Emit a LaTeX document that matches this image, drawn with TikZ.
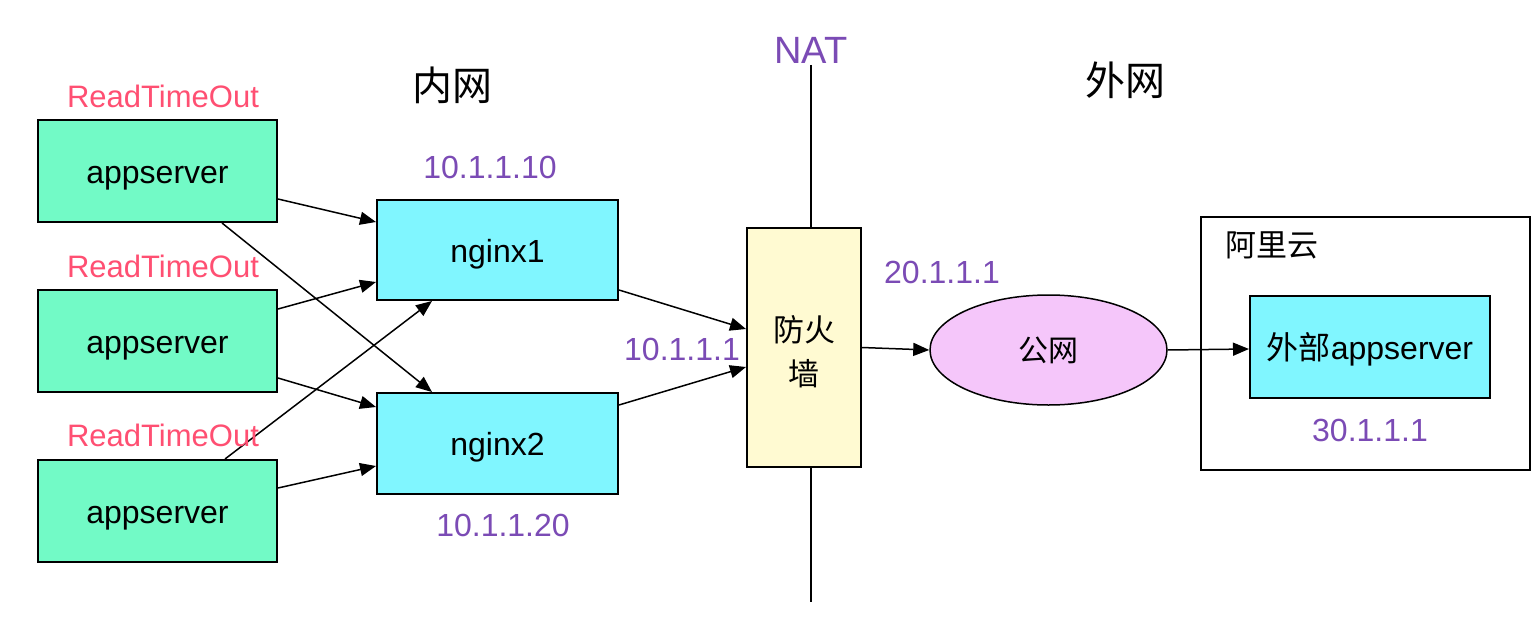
\documentclass[tikz,border=0pt]{standalone}
\usepackage{fontspec}
\setmainfont{Liberation Sans}
\newfontfamily\cjk{Noto Sans CJK SC}
\usetikzlibrary{arrows.meta,shapes.geometric}
\definecolor{mint}{HTML}{72FAC6}
\definecolor{cyanf}{HTML}{80F6FF}
\definecolor{fwf}{HTML}{FFFAD2}
\definecolor{pinkf}{HTML}{F5C6FA}
\definecolor{purp}{HTML}{7B4BB5}
\definecolor{redt}{HTML}{FF4F72}
\tikzset{
  box/.style={draw=black,line width=2pt,inner sep=0pt,font=\fontsize{32}{38}\selectfont},
  txtc/.style={text height=32pt,text depth=8pt},
  appbox/.style={box,txtc,fill=mint,minimum width=239pt,minimum height=102pt},
  ngbox/.style={box,txtc,fill=cyanf,minimum width=241pt,minimum height=100pt},
  arr/.style={line width=1.5pt,-{Triangle[length=16pt,width=13pt]}},
  ptxt/.style={text=purp,font=\fontsize{32}{38}\selectfont,inner sep=0pt},
  rtxt/.style={text=redt,font=\fontsize{31}{38}\selectfont,inner sep=0pt},
  ctxt/.style={font=\fontsize{40}{48}\selectfont\cjk,inner sep=0pt}
}
\begin{document}
\begin{tikzpicture}[x=1pt,y=-1pt]
\useasboundingbox[fill=white] (0,0) rectangle (1540,634);
% titles
\node[ctxt] (nei) at (452,85) {内网};
\node[ctxt] (wai) at (1125,80) {外网};
\node[text=purp,font=\fontsize{38}{44}\selectfont,inner sep=0pt] (nat) at (811,50) {NAT};
% appservers
\node[appbox] (app1) at (157.5,171) {appserver};
\node[appbox] (app2) at (157.5,341) {appserver};
\node[appbox] (app3) at (157.5,511) {appserver};
\node[rtxt] (rt1) at (163,96) {ReadTimeOut};
\node[rtxt] (rt2) at (163,266) {ReadTimeOut};
% nginx
\node[ngbox] (ng1) at (497.5,250) {nginx1};
\node[ngbox,minimum height=101pt] (ng2) at (497.5,443.5) {nginx2};
\node[ptxt] (ip1) at (490,167) {10.1.1.10};
\node[ptxt] (ip2) at (503,525) {10.1.1.20};
% firewall
\node[box,fill=fwf,minimum width=114pt,minimum height=239pt] (fw) at (804,347.5) {};
\node[align=center,font=\fontsize{31}{44}\selectfont\cjk,inner sep=0pt] (fwt) at (804,352) {防火\\墙};
\coordinate (natTop) at (811,65);
\coordinate (natBot) at (811,602);
\draw[line width=2pt] (natTop) -- ([xshift=7pt]fw.north);
\draw[line width=2pt] ([xshift=7pt]fw.south) -- (natBot);
\node[ptxt] (ip3) at (682,349) {10.1.1.1};
\node[ptxt] (ip4) at (942,272) {20.1.1.1};
% public net
\node[ellipse,draw=black,line width=1.5pt,fill=pinkf,minimum width=237pt,minimum height=110pt,inner sep=0pt,font=\fontsize{30}{36}\selectfont\cjk] (pub) at (1048.5,350) {公网};
% aliyun
\node[draw=black,line width=2pt,minimum width=329pt,minimum height=253pt,inner sep=0pt] (ali) at (1365.5,343.5) {};
\node[font=\fontsize{31}{36}\selectfont\cjk,inner sep=0pt] (alit) at (1272,245) {阿里云};
\node[ngbox,minimum width=240pt,minimum height=102pt] (ext) at (1370,347) {{\cjk 外部}appserver};
\node[ptxt] (ip5) at (1370,430) {30.1.1.1};
% arrows
\draw[arr] ([yshift=-28pt]app1.east) -- ([yshift=28pt]ng1.west);
\draw[arr] ([xshift=64.5pt]app1.south) -- ([xshift=-65.5pt]ng2.north);
\draw[arr] ([yshift=32pt]app2.east) -- ([yshift=-32pt]ng1.west);
\draw[arr] ([yshift=-37pt]app2.east) -- ([yshift=36.5pt]ng2.west);
\draw[arr] ([xshift=67.5pt]app3.north) -- ([xshift=-65.5pt]ng1.south);
\draw[arr] ([yshift=23pt]app3.east) -- ([yshift=-22.5pt]ng2.west);
\node[rtxt] (rt3) at (163,435) {ReadTimeOut};
\draw[arr] ([yshift=-40pt]ng1.east) -- ([yshift=18.5pt]fw.west);
\draw[arr] ([yshift=38.5pt]ng2.east) -- ([yshift=-19.5pt]fw.west);
\draw[arr] (fw.east) -- (pub.west);
\draw[arr] (pub.east) -- ([yshift=-2pt]ext.west);
\end{tikzpicture}
\end{document}
